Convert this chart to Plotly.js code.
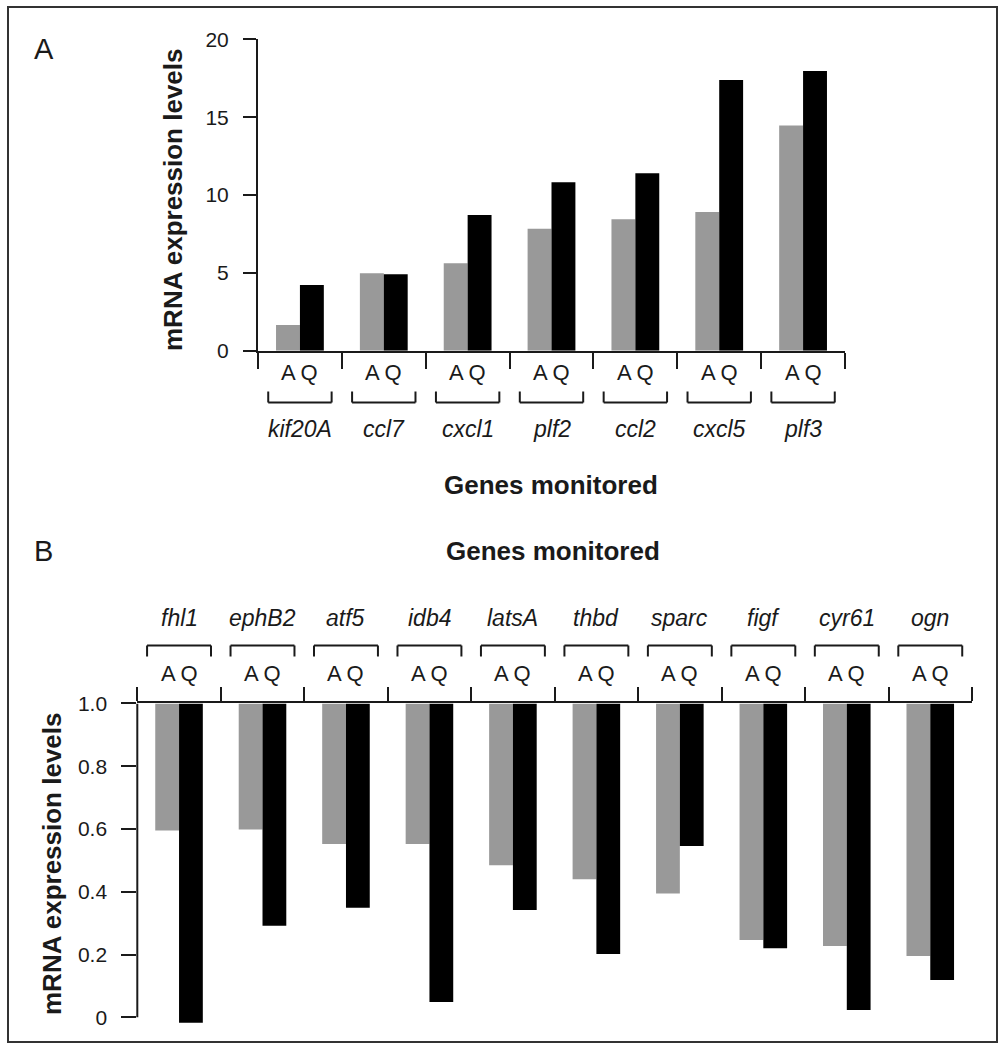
<!DOCTYPE html>
<html><head><meta charset="utf-8">
<script src="https://cdn.plot.ly/plotly-3.0.1.min.js"></script>
<style>html,body{margin:0;padding:0;background:#fff}</style>
</head><body>
<div id="chart" style="width:1005px;height:1050px"></div>
<script>
// ---- data ----
const genesA = ['kif20A','ccl7','cxcl1','plf2','ccl2','cxcl5','plf3'];
const valuesA_A = [1.65, 4.97, 5.62, 7.84, 8.44, 8.91, 14.47];
const valuesA_Q = [4.22, 4.91, 8.72, 10.82, 11.40, 17.38, 17.96];
const genesB = ['fhl1','ephB2','atf5','idb4','latsA','thbd','sparc','figf','cyr61','ogn'];
const valuesB_A = [0.595, 0.598, 0.552, 0.552, 0.484, 0.44, 0.394, 0.246, 0.227, 0.195];
const valuesB_Q = [-0.017, 0.292, 0.349, 0.049, 0.342, 0.202, 0.546, 0.22, 0.023, 0.119];
const baselineB = 1.0;
const conditionLabel = 'A Q';
const yTicksA = [0, 5, 10, 15, 20];
const yTicksB = [0, 0.2, 0.4, 0.6, 0.8, 1.0];
const yTickTextB = ['0', '0.2', '0.4', '0.6', '0.8', '1.0'];
const yTitle = 'mRNA expression levels';
const xTitle = 'Genes monitored';

// ---- layout helpers ----
const W = 1005, H = 1050;
const px = v => v / W;
const py = v => 1 - v / H;
const INK = '#1a1a1a';
const SANS = 'Liberation Sans, Arial, Helvetica, sans-serif';

const traces = [
  {type:'bar', name:'A', x:genesA, y:valuesA_A, xaxis:'x', yaxis:'y',
   marker:{color:'#999999', line:{width:0}}},
  {type:'bar', name:'Q', x:genesA, y:valuesA_Q, xaxis:'x', yaxis:'y',
   marker:{color:'#000000', line:{width:0}}},
  {type:'bar', name:'A', x:genesB, y:valuesB_A.map(v => v - baselineB), base:baselineB,
   xaxis:'x2', yaxis:'y2', marker:{color:'#999999', line:{width:0}}},
  {type:'bar', name:'Q', x:genesB, y:valuesB_Q.map(v => v - baselineB), base:baselineB,
   xaxis:'x2', yaxis:'y2', marker:{color:'#000000', line:{width:0}}}
];

const annotations = [];
const shapes = [];

function addGroupLabels(genes, axis, aqY, nameY, brTop, brBot, bracketDown, half) {
  genes.forEach((g, i) => {
    annotations.push({xref:axis, yref:'paper', x:g, y:py(aqY), text:conditionLabel,
      showarrow:false, xanchor:'center', yanchor:'middle',
      font:{family:SANS, size:22, color:INK}});
    annotations.push({xref:axis, yref:'paper', x:g, y:py(nameY), text:'<i>' + g + '</i>',
      showarrow:false, xanchor:'center', yanchor:'middle',
      font:{family:SANS, size:23, color:INK}});
    const hy = bracketDown ? brBot : brTop;
    const ln = {color:INK, width:2};
    shapes.push({type:'line', xref:axis, yref:'paper', x0:i - half, x1:i + half, y0:py(hy), y1:py(hy), line:ln});
    shapes.push({type:'line', xref:axis, yref:'paper', x0:i - half, x1:i - half, y0:py(brTop), y1:py(brBot), line:ln});
    shapes.push({type:'line', xref:axis, yref:'paper', x0:i + half, x1:i + half, y0:py(brTop), y1:py(brBot), line:ln});
  });
}
addGroupLabels(genesA, 'x', 372, 429, 391.5, 402.5, true, 0.378);
addGroupLabels(genesB, 'x2', 673, 618, 645.5, 656.5, false, 0.383);

// axis titles and panel letters
annotations.push({xref:'paper', yref:'paper', x:px(551), y:py(485), text:xTitle, showarrow:false,
  xanchor:'center', yanchor:'middle', font:{family:SANS, size:26, color:INK, weight:'bold'}});
annotations.push({xref:'paper', yref:'paper', x:px(553), y:py(551), text:xTitle, showarrow:false,
  xanchor:'center', yanchor:'middle', font:{family:SANS, size:26, color:INK, weight:'bold'}});
annotations.push({xref:'paper', yref:'paper', x:px(173), y:py(200), text:yTitle, showarrow:false,
  textangle:-90, xanchor:'center', yanchor:'middle', font:{family:SANS, size:26, color:INK, weight:'bold'}});
annotations.push({xref:'paper', yref:'paper', x:px(52), y:py(864), text:yTitle, showarrow:false,
  textangle:-90, xanchor:'center', yanchor:'middle', font:{family:SANS, size:26, color:INK, weight:'bold'}});
annotations.push({xref:'paper', yref:'paper', x:px(43.5), y:py(49), text:'A', showarrow:false,
  xanchor:'center', yanchor:'middle', font:{family:'Liberation Sans Narrow, Liberation Sans, sans-serif', size:29, color:INK}});
annotations.push({xref:'paper', yref:'paper', x:px(43), y:py(551), text:'B', showarrow:false,
  xanchor:'center', yanchor:'middle', font:{family:'Liberation Sans Narrow, Liberation Sans, sans-serif', size:29, color:INK}});

// y axis line of panel B (from 0 to 1.0 only; the range extends slightly below 0)
shapes.push({type:'line', xref:'paper', yref:'y2', x0:px(137.3), x1:px(137.3), y0:0, y1:1,
  line:{color:INK, width:2}});

// figure border
shapes.push({type:'rect', xref:'paper', yref:'paper', x0:px(8), x1:px(997), y0:py(1042), y1:py(7),
  line:{color:'#333333', width:2}, fillcolor:'rgba(0,0,0,0)'});

const commonX = {type:'category', showline:true, linecolor:INK, linewidth:2, ticks:'outside',
  tickson:'boundaries', tickwidth:2, tickcolor:INK, showticklabels:false, showgrid:false,
  zeroline:false, fixedrange:true};
const commonY = {showline:true, linecolor:INK, linewidth:2, ticks:'outside', tickwidth:2,
  tickcolor:INK, showgrid:false, zeroline:false, fixedrange:true, ticklabelstandoff:10,
  tickfont:{family:SANS, size:21, color:INK}};

const pxPerUnitB = (1017.3 - 703.4);
const bottomB = -0.03;

const layout = {
  width:W, height:H, autosize:false,
  margin:{l:0, r:0, t:0, b:0, pad:0},
  paper_bgcolor:'#ffffff', plot_bgcolor:'rgba(0,0,0,0)',
  showlegend:false, barmode:'group', bargap:0.43, bargroupgap:0,
  xaxis: Object.assign({}, commonX, {domain:[px(258), px(845)], anchor:'y', side:'bottom',
    ticklen:16, range:[-0.5, genesA.length - 0.5]}),
  yaxis: Object.assign({}, commonY, {domain:[py(350.7), py(39.3)], anchor:'x', range:[0, 20],
    tickmode:'array', tickvals:yTicksA, ticklen:13}),
  xaxis2: Object.assign({}, commonX, {domain:[px(137.3), px(972)], anchor:'y2', side:'top',
    ticklen:14, range:[-0.5, genesB.length - 0.5]}),
  yaxis2: Object.assign({}, commonY, {domain:[py(1017.3 - bottomB * pxPerUnitB), py(703.4)],
    anchor:'x2', range:[bottomB, 1], showline:false,
    tickmode:'array', tickvals:yTicksB, ticktext:yTickTextB, ticklen:15}),
  annotations: annotations,
  shapes: shapes
};

Plotly.newPlot('chart', traces, layout, {staticPlot:true, displayModeBar:false});
</script>
</body></html>
